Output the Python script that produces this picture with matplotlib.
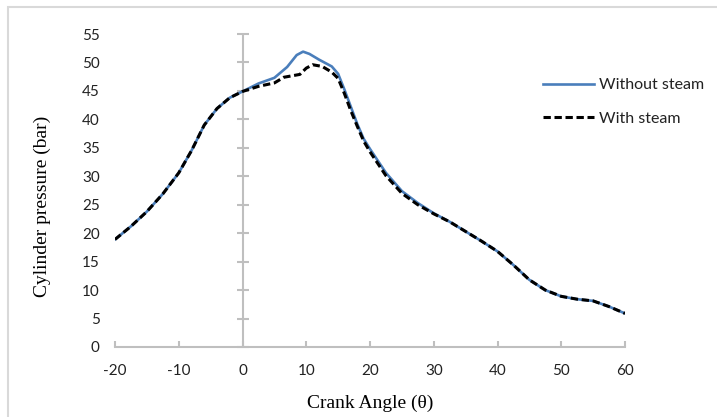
import matplotlib
matplotlib.use('Agg')
import matplotlib.pyplot as plt
from matplotlib.patches import Rectangle
import numpy as np

# crank angle (deg) and cylinder pressure (bar)
angle_without = [-20, -17.5, -15, -12.5, -10, -8, -6, -4, -2, 0, 2.5, 5, 7, 8.5, 9.5,
                 10.5, 12, 14, 15, 16, 17, 18, 19, 20, 22.5, 25, 27.5, 30, 32.5, 35,
                 37.5, 40, 42.5, 45, 47.5, 50, 52.5, 55, 57.5, 60]
p_without = [18.9, 21.2, 23.8, 26.9, 30.6, 34.5, 39.0, 41.9, 43.8, 44.9, 46.3, 47.3, 49.2,
             51.3, 51.9, 51.5, 50.5, 49.3, 48.0, 45.2, 42.2, 39.2, 36.6, 34.8, 30.6, 27.4,
             25.3, 23.5, 22.0, 20.3, 18.6, 16.8, 14.4, 11.8, 10.0, 8.9, 8.4, 8.1, 7.1, 5.9]

angle_with = [-20, -17.5, -15, -12.5, -10, -8, -6, -4, -2, 0, 2.5, 5, 6.5, 9, 10, 11,
              12.5, 14, 15, 16, 17, 18, 19, 20, 22.5, 25, 27.5, 30, 32.5, 35,
              37.5, 40, 42.5, 45, 47.5, 50, 52.5, 55, 57.5, 60]
p_with = [18.9, 21.2, 23.8, 26.9, 30.6, 34.5, 39.0, 41.9, 43.8, 44.9, 45.8, 46.4, 47.4,
          47.9, 49.0, 49.6, 49.3, 48.3, 47.2, 44.5, 41.5, 38.8, 36.2, 34.3, 30.1, 27.0,
          25.0, 23.4, 22.0, 20.3, 18.6, 16.8, 14.4, 11.8, 10.0, 8.9, 8.4, 8.1, 7.1, 5.9]

xticks = list(range(-20, 61, 10))
yticks = list(range(0, 56, 5))

plt.rcParams['axes.unicode_minus'] = False
tick_font = 'Lato'
label_font = 'Liberation Serif'
grey = '#bfbfbf'

fig = plt.figure(figsize=(7.17, 4.17), dpi=100)
ax = fig.add_axes([115 / 717, 1 - 347 / 417, 510 / 717, 313 / 417])

ax.plot(angle_without, p_without, color='#4a7ebb', lw=1.9, label='Without steam')
ax.plot(angle_with, p_with, color='black', lw=2.2, dashes=(2.4, 1.2), label='With steam')

ax.set_xlim(-20, 60)
ax.set_ylim(0, 55)
for s in ['top', 'right', 'left']:
    ax.spines[s].set_visible(False)
ax.spines['bottom'].set_color(grey)
ax.spines['bottom'].set_linewidth(1.5)

ax.set_xticks(xticks)
ax.set_yticks(yticks)
ax.tick_params(axis='x', direction='in', length=4, width=1.5, color=grey, pad=12,
               labelsize=11)
ax.tick_params(axis='y', length=0, pad=11, labelsize=11)
for lab in ax.get_xticklabels() + ax.get_yticklabels():
    lab.set_fontfamily(tick_font)
    lab.set_color('#222222')

# vertical axis line at 0 with crossing tick marks
ax.axvline(0, color=grey, lw=1.5, zorder=0)
ax.plot(np.zeros(len(yticks)), yticks, ls='none', marker='_', ms=8, mew=1.5,
        color=grey, zorder=0, clip_on=False)

ax.set_xlabel('Crank Angle (\u03b8)', fontfamily=label_font, fontsize=14)
ax.set_ylabel('Cylinder pressure (bar)', fontfamily=label_font, fontsize=14)
ax.xaxis.set_label_coords(0.5, -0.153)
ax.yaxis.set_label_coords(-0.126, 0.45)

leg = ax.legend(loc='upper left', bbox_to_anchor=(535 / 717, 1 - 70 / 417),
                bbox_transform=fig.transFigure, frameon=False, borderpad=0,
                handlelength=3.2, handletextpad=0.3, labelspacing=1.2,
                prop={'family': tick_font, 'size': 11.5})
for t in leg.get_texts():
    t.set_color('#222222')

fig.patches.append(Rectangle((8 / 717, -0.1), 1.1, 1 - 7 / 417 + 0.1, transform=fig.transFigure,
                             fill=False, edgecolor='#d9d9d9', lw=1.5))

fig.savefig('out.png', dpi=100)
